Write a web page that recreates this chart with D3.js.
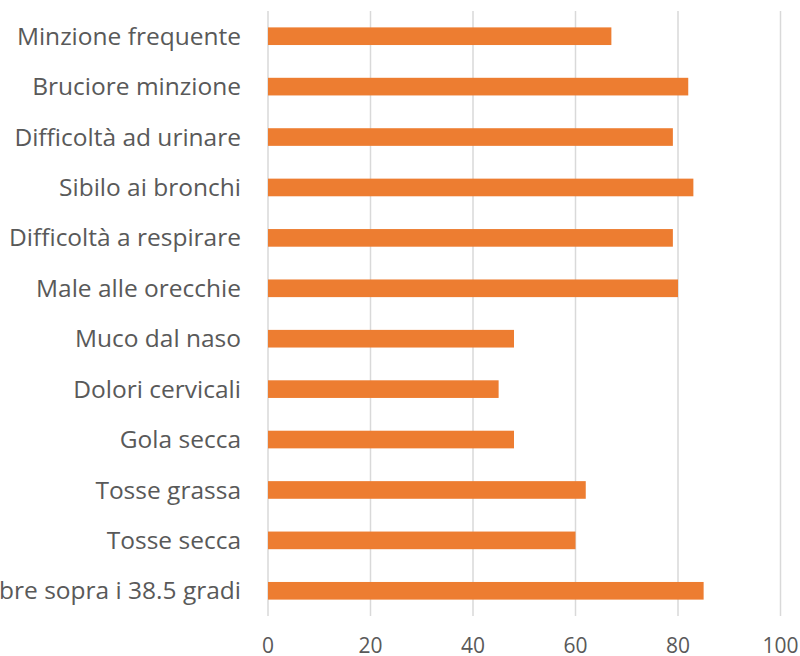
<!DOCTYPE html>
<html lang="it">
<head>
<meta charset="utf-8">
<title>Sintomi</title>
<script src="https://d3js.org/d3.v7.min.js"></script>
<style>
  body { margin: 0; background: #fff; }
  .grid line { stroke: #d9d9d9; stroke-width: 1.5px; }
  .label { font-family: "Open Sans", sans-serif; font-size: 24.5px; fill: #595959; }
  .tick-label { font-family: "Open Sans", sans-serif; font-size: 21px; fill: #595959; }
</style>
</head>
<body>
<script>
// categories top to bottom
var categories = [
  "Minzione frequente", "Bruciore minzione", "Difficoltà ad urinare",
  "Sibilo ai bronchi", "Difficoltà a respirare", "Male alle orecchie",
  "Muco dal naso", "Dolori cervicali", "Gola secca", "Tosse grassa",
  "Tosse secca", "Febbre sopra i 38.5 gradi"
];
var values = [67, 82, 79, 83, 79, 80, 48, 45, 48, 62, 60, 85];
var xTicks = [0, 20, 40, 60, 80, 100];

var W = 800, H = 656;
var margin = {top: 11, right: 20, bottom: 40, left: 268};

var x = d3.scaleLinear().domain([0, 100]).range([margin.left, 780.5]);
var y = d3.scaleBand().domain(categories).range([margin.top, 616]).paddingInner(0.65).paddingOuter(0.325);

var svg = d3.select("body").append("svg")
    .attr("width", W)
    .attr("height", H);

// vertical gridlines
svg.append("g").attr("class", "grid")
  .selectAll("line").data(xTicks).enter().append("line")
    .attr("x1", function(d) { return x(d); })
    .attr("x2", function(d) { return x(d); })
    .attr("y1", margin.top)
    .attr("y2", 616);

// bars
svg.append("g").selectAll("rect").data(categories).enter().append("rect")
    .attr("x", x(0))
    .attr("y", function(d) { return y(d); })
    .attr("width", function(d, i) { return x(values[i]) - x(0); })
    .attr("height", y.bandwidth())
    .attr("fill", "#ed7d31");

// category labels
svg.append("g").selectAll("text").data(categories).enter().append("text")
    .attr("class", "label")
    .attr("x", 241)
    .attr("y", function(d) { return y(d) + y.bandwidth() / 2; })
    .attr("dy", "0.35em")
    .attr("text-anchor", "end")
    .text(function(d) { return d; });

// x tick labels
svg.append("g").selectAll("text").data(xTicks).enter().append("text")
    .attr("class", "tick-label")
    .attr("x", function(d) { return x(d); })
    .attr("y", 653)
    .attr("text-anchor", "middle")
    .text(function(d) { return d; });
</script>
</body>
</html>
